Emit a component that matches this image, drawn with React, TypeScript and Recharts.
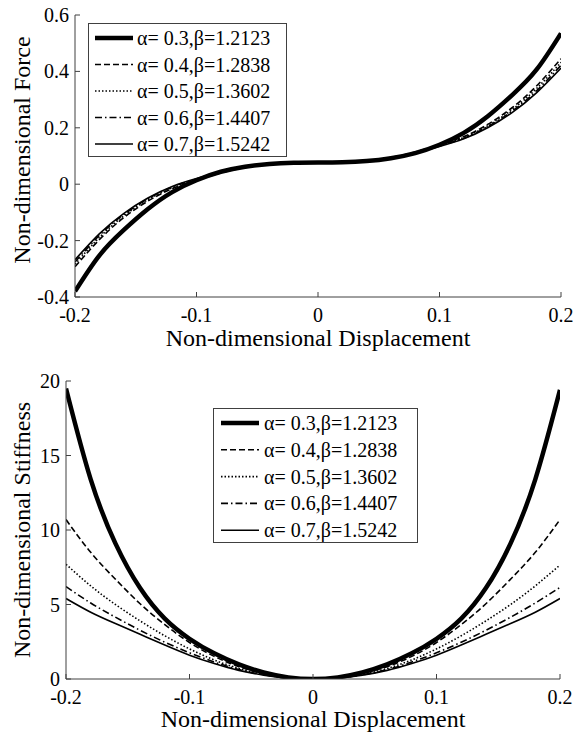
import React from 'react';
import { LineChart, Line, XAxis, YAxis, Legend } from 'recharts';

const FONT = '"Liberation Serif", "Times New Roman", serif';
const AXIS = '#404040';

// ---------- data ----------
const displacement = [-0.2, -0.18, -0.16, -0.14, -0.12, -0.1, -0.08, -0.06, -0.04, -0.02, 0, 0.02, 0.04, 0.06, 0.08, 0.1, 0.12, 0.14, 0.16, 0.18, 0.2];

const forceA03 = [-0.38, -0.253, -0.163, -0.088, -0.028, 0.014, 0.044, 0.062, 0.072, 0.076, 0.077, 0.078, 0.082, 0.092, 0.11, 0.14, 0.182, 0.242, 0.317, 0.407, 0.535];
const forceA04 = [-0.293, -0.197, -0.119, -0.06, -0.016, 0.014, 0.04, 0.059, 0.071, 0.076, 0.077, 0.078, 0.083, 0.095, 0.114, 0.14, 0.169, 0.213, 0.272, 0.349, 0.445];
const forceA05 = [-0.284, -0.189, -0.113, -0.055, -0.013, 0.017, 0.041, 0.06, 0.071, 0.076, 0.077, 0.078, 0.083, 0.094, 0.113, 0.137, 0.166, 0.208, 0.265, 0.34, 0.432];
const forceA06 = [-0.276, -0.182, -0.108, -0.052, -0.01, 0.018, 0.042, 0.06, 0.071, 0.076, 0.077, 0.078, 0.083, 0.094, 0.112, 0.136, 0.163, 0.205, 0.26, 0.332, 0.422];
const forceA07 = [-0.268, -0.176, -0.104, -0.049, -0.008, 0.02, 0.043, 0.061, 0.071, 0.076, 0.077, 0.078, 0.083, 0.093, 0.111, 0.134, 0.161, 0.201, 0.255, 0.325, 0.412];

const stiffA03 = [19.5, 13.4, 9.1, 6.1, 4.05, 2.7, 1.72, 0.98, 0.44, 0.11, 0, 0.11, 0.44, 0.98, 1.72, 2.7, 4.05, 6.1, 9.1, 13.4, 19.4];
const stiffA04 = [10.7, 8.5, 6.7, 5.05, 3.65, 2.45, 1.52, 0.83, 0.37, 0.09, 0, 0.09, 0.37, 0.83, 1.52, 2.45, 3.65, 5.05, 6.7, 8.5, 10.7];
const stiffA05 = [7.7, 6.25, 5.0, 3.9, 2.9, 2.02, 1.28, 0.71, 0.31, 0.08, 0, 0.08, 0.31, 0.71, 1.28, 2.02, 2.9, 3.9, 5.0, 6.25, 7.65];
const stiffA06 = [6.2, 5.1, 4.15, 3.27, 2.47, 1.76, 1.14, 0.63, 0.28, 0.07, 0, 0.07, 0.28, 0.63, 1.14, 1.76, 2.47, 3.27, 4.15, 5.1, 6.15];
const stiffA07 = [5.4, 4.48, 3.72, 3.0, 2.28, 1.6, 1.04, 0.58, 0.26, 0.06, 0, 0.06, 0.26, 0.58, 1.04, 1.6, 2.28, 3.0, 3.72, 4.48, 5.4];

const seriesNames = ['α= 0.3,β=1.2123', 'α= 0.4,β=1.2838', 'α= 0.5,β=1.3602', 'α= 0.6,β=1.4407', 'α= 0.7,β=1.5242'];

const xTicks = [-0.2, -0.1, 0, 0.1, 0.2];
const forceTicks = [-0.4, -0.2, 0, 0.2, 0.4, 0.6];
const stiffTicks = [0, 5, 10, 15, 20];

// ---------- styles ----------
const lineStyles = [
  { w: 4.5, dash: undefined as string | undefined },
  { w: 1.6, dash: '6 3' },
  { w: 1.6, dash: '1.5 2' },
  { w: 1.6, dash: '7 3 1.5 3' },
  { w: 1.6, dash: undefined as string | undefined },
];

const forceRows = displacement.map((x, i) => ({
  x, s0: forceA03[i], s1: forceA04[i], s2: forceA05[i], s3: forceA06[i], s4: forceA07[i],
}));
const stiffRows = displacement.map((x, i) => ({
  x, s0: stiffA03[i], s1: stiffA04[i], s2: stiffA05[i], s3: stiffA06[i], s4: stiffA07[i],
}));

const fmt = (v: number) => String(v);

const BottomTick = (props: any) => {
  const { x, y, payload } = props;
  return (
    <g>
      <line x1={x} x2={x} y1={y} y2={y - 5} stroke={AXIS} strokeWidth={1} />
      <text x={x} y={y + 25} textAnchor="middle" fontFamily={FONT} fontSize={20} fill="#000">{fmt(payload.value)}</text>
    </g>
  );
};
const TopTick = (props: any) => {
  const { x, y } = props;
  return <line x1={x} x2={x} y1={y} y2={y + 5} stroke={AXIS} strokeWidth={1} />;
};
const LeftTick = (props: any) => {
  const { x, y, payload } = props;
  return (
    <g>
      <line x1={x} x2={x + 5} y1={y} y2={y} stroke={AXIS} strokeWidth={1} />
      <text x={x - 6} y={y} textAnchor="end" dominantBaseline="central" fontFamily={FONT} fontSize={20} fill="#000">{fmt(payload.value)}</text>
    </g>
  );
};
const RightTick = (props: any) => {
  const { x, y } = props;
  return <line x1={x} x2={x - 5} y1={y} y2={y} stroke={AXIS} strokeWidth={1} />;
};

const makeXTitle = (text: string, dy: number) => (props: any) => {
  const vb = props.viewBox || {};
  const cx = vb.x + vb.width / 2;
  return (
    <text x={cx} y={vb.y + dy} textAnchor="middle" fontFamily={FONT} fontSize={24} fill="#000">{text}</text>
  );
};
const makeYTitle = (text: string, cx: number, cy: number) => () => (
  <text x={cx} y={cy} transform={`rotate(-90, ${cx}, ${cy})`} textAnchor="middle" dominantBaseline="central" fontFamily={FONT} fontSize={24} fill="#000">{text}</text>
);

const LegendBox = ({ w, h, firstRow, step, lx1, lx2, tx }: any) => (
  <svg width={w} height={h} style={{ display: 'block' }}>
    <rect x={0.5} y={0.5} width={w - 1} height={h - 1} fill="#fff" stroke={AXIS} strokeWidth={1} />
    {seriesNames.map((name, i) => {
      const yy = firstRow + i * step;
      const st = lineStyles[i];
      return (
        <g key={name}>
          <line x1={lx1} x2={lx2} y1={yy} y2={yy} stroke="#000" strokeWidth={st.w} strokeDasharray={st.dash} />
          <text x={tx} y={yy} dominantBaseline="central" fontFamily={FONT} fontSize={20} fill="#000">{name}</text>
        </g>
      );
    })}
  </svg>
);

const renderLines = () =>
  lineStyles.map((st, i) => (
    <Line
      key={i}
      dataKey={`s${i}`}
      name={seriesNames[i]}
      type="natural"
      stroke="#000"
      strokeWidth={st.w}
      strokeDasharray={st.dash}
      dot={false}
      activeDot={false}
      isAnimationActive={false}
    />
  ));

export default function App() {
  return (
    <div style={{ position: 'absolute', left: 0, top: 0, width: 573, height: 735, background: '#fff' }}>
      <div style={{ position: 'absolute', left: 0, top: 0 }}>
        <LineChart width={573} height={355} data={forceRows} margin={{ top: 15, right: 12, bottom: 8, left: 15 }}>
          <XAxis dataKey="x" type="number" domain={[-0.2, 0.2]} ticks={xTicks} interval={0} allowDataOverflow
            height={50} tickSize={0} tickMargin={0} tick={<BottomTick />} axisLine={{ stroke: AXIS }}
            label={{ content: makeXTitle('Non-dimensional Displacement', 49) }} />
          <XAxis xAxisId="top" orientation="top" dataKey="x" type="number" domain={[-0.2, 0.2]} ticks={xTicks} interval={0}
            allowDataOverflow height={0} tickSize={0} tickMargin={0} tick={<TopTick />} axisLine={{ stroke: AXIS }} />
          <YAxis type="number" domain={[-0.4, 0.6]} ticks={forceTicks} interval={0} allowDataOverflow width={60}
            tickSize={0} tickMargin={0} tick={<LeftTick />} axisLine={{ stroke: AXIS }}
            label={{ content: makeYTitle('Non-dimensional Force', 22, 150) }} />
          <YAxis yAxisId="right" orientation="right" type="number" domain={[-0.4, 0.6]} ticks={forceTicks} interval={0}
            allowDataOverflow width={0} tickSize={0} tickMargin={0} tick={<RightTick />} axisLine={{ stroke: AXIS }} />
          <Legend layout="horizontal" verticalAlign="middle" align="center"
            wrapperStyle={{ left: 88, top: 23, width: 199, height: 134 }}
            content={() => <LegendBox w={199} h={134} firstRow={15} step={26.5} lx1={7} lx2={45} tx={49} />} />
          {renderLines()}
        </LineChart>
      </div>
      <div style={{ position: 'absolute', left: 0, top: 365 }}>
        <LineChart width={573} height={370} data={stiffRows} margin={{ top: 16, right: 13, bottom: 8, left: 16 }}>
          <XAxis dataKey="x" type="number" domain={[-0.2, 0.2]} ticks={xTicks} interval={0} allowDataOverflow
            height={48} tickSize={0} tickMargin={0} tick={<BottomTick />} axisLine={{ stroke: AXIS }}
            label={{ content: makeXTitle('Non-dimensional Displacement', 48) }} />
          <XAxis xAxisId="top" orientation="top" dataKey="x" type="number" domain={[-0.2, 0.2]} ticks={xTicks} interval={0}
            allowDataOverflow height={0} tickSize={0} tickMargin={0} tick={<TopTick />} axisLine={{ stroke: AXIS }} />
          <YAxis type="number" domain={[0, 20]} ticks={stiffTicks} interval={0} allowDataOverflow width={50}
            tickSize={0} tickMargin={0} tick={<LeftTick />} axisLine={{ stroke: AXIS }}
            label={{ content: makeYTitle('Non-dimensional Stiffness', 22, 165) }} />
          <YAxis yAxisId="right" orientation="right" type="number" domain={[0, 20]} ticks={stiffTicks} interval={0}
            allowDataOverflow width={0} tickSize={0} tickMargin={0} tick={<RightTick />} axisLine={{ stroke: AXIS }} />
          <Legend layout="horizontal" verticalAlign="middle" align="center"
            wrapperStyle={{ left: 213, top: 43, width: 205, height: 135 }}
            content={() => <LegendBox w={205} h={135} firstRow={15} step={26.8} lx1={8} lx2={46} tx={51} />} />
          {renderLines()}
        </LineChart>
      </div>
    </div>
  );
}
